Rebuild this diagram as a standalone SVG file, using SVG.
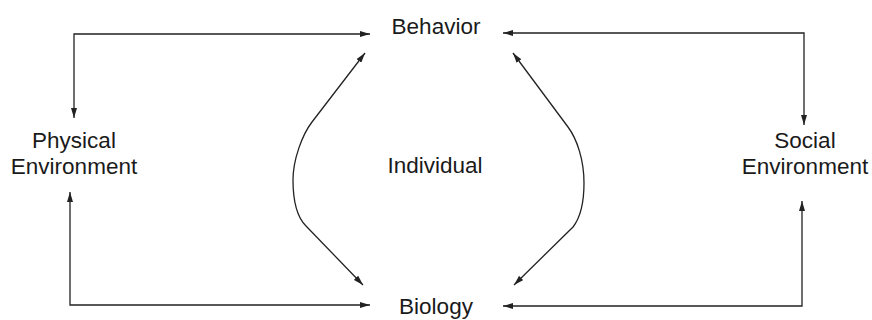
<svg xmlns="http://www.w3.org/2000/svg" width="872" height="320" viewBox="0 0 872 320">
<style>
text{font-family:"Liberation Sans",Arial,sans-serif;font-size:22.5px;fill:#1a1a1a;text-anchor:middle}
.c{fill:none;stroke:#222;stroke-width:1.3;marker-start:url(#ah);marker-end:url(#ah)}
</style>
<defs>
<marker id="ah" viewBox="0 0 10 6" refX="10" refY="3" markerWidth="10" markerHeight="6" markerUnits="userSpaceOnUse" orient="auto-start-reverse">
<path d="M0,0 L10,3 L0,6 Z" fill="#222"/>
</marker>
</defs>
<rect width="872" height="320" fill="#fff"/>
<g id="connectors">
<path class="c" d="M74 118 L74 34 L370 34"/>
<path class="c" d="M70 192 L70 305 L370 305"/>
<path class="c" d="M503 33 L804 33 L804 125"/>
<path class="c" d="M802 201 L802 306 L503 306"/>
<path class="c" d="M365 53 L312 122 C302 135 293 160 293 180 C293 200 297 217 306 226 L363 285"/>
<path class="c" d="M513 53 L568 127 C577 139 584 160 584 183 C584 203 580 218 573 227 L514 285"/>
</g>
<g id="behavior"><text x="436" y="34">Behavior</text></g>
<g id="biology"><text x="436" y="314">Biology</text></g>
<g id="individual"><text x="435" y="173">Individual</text></g>
<g id="physical"><text x="74" y="148">Physical</text><text x="74" y="174">Environment</text></g>
<g id="social"><text x="805" y="148">Social</text><text x="805" y="174">Environment</text></g>
</svg>
